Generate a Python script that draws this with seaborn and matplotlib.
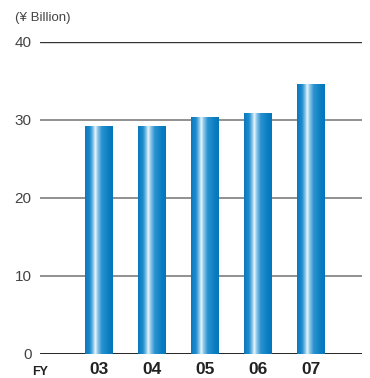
import numpy as np
import pandas as pd
import matplotlib
matplotlib.use("Agg")
import matplotlib.pyplot as plt
import seaborn as sns
from matplotlib.colors import LinearSegmentedColormap

years = ["03", "04", "05", "06", "07"]
values = [29.2, 29.1, 30.3, 30.8, 34.6]
yticks = [0, 10, 20, 30, 40]

sns.set_theme(style="white")
plt.rcParams['font.family'] = ['Liberation Sans', 'DejaVu Sans']

fig = plt.figure(figsize=(3.70, 3.78), dpi=100)
ax = fig.add_axes([0.108, 0.0635, 0.870, 0.8255])

df = pd.DataFrame({"year": years, "value": values})
sns.barplot(data=df, x="year", y="value", ax=ax, width=0.51,
            color="#0a7dc2", saturation=1, zorder=3)

cmap = LinearSegmentedColormap.from_list("barg", [
    (0.0, "#0a78bd"), (0.18, "#1d8ccc"), (0.30, "#8cc8ea"),
    (0.37, "#eef7fc"), (0.45, "#8fc9ea"), (0.60, "#2a92d0"),
    (0.85, "#0a7ec2"), (1.0, "#0475b8")])
grad = np.linspace(0, 1, 256).reshape(1, -1)
for p in ax.patches:
    x0, y0 = p.get_x(), p.get_y()
    w, h = p.get_width(), p.get_height()
    ax.imshow(grad, cmap=cmap, aspect="auto",
              extent=(x0, x0 + w, y0 - 0.25, y0 + h),
              zorder=3, interpolation="bilinear")
    p.set_facecolor("none")
    p.set_edgecolor("none")

ax.set_xlim(-1.11, 4.96)
ax.set_ylim(0, 40)
ax.set_yticks(yticks)
ax.set_yticklabels([str(t) for t in yticks], fontsize=11, color="#444444")
for t in yticks[1:4]:
    ax.axhline(t, color="#888888", lw=1.3, zorder=1)
ax.axhline(40, color="#333333", lw=1.0, zorder=1)
ax.axhline(0, color="#111111", lw=2.0, zorder=2)

for s in ax.spines.values():
    s.set_visible(False)
ax.tick_params(axis="y", length=0, pad=6)
ax.tick_params(axis="x", length=0, pad=6)
ax.set_xticks(range(len(years)))
ax.set_xticklabels(years, fontsize=12.5, fontweight="bold", color="#222222")
ax.set_xlabel("")
ax.set_ylabel("")

fig.text(0.04, 0.953, "(¥ Billion)", fontsize=9.5, color="#444444", ha="left", va="center")
fig.text(0.086, 0.017, "FY", fontsize=9, fontweight="bold", color="#222222", ha="left", va="center")

fig.savefig("out.png", dpi=100)
